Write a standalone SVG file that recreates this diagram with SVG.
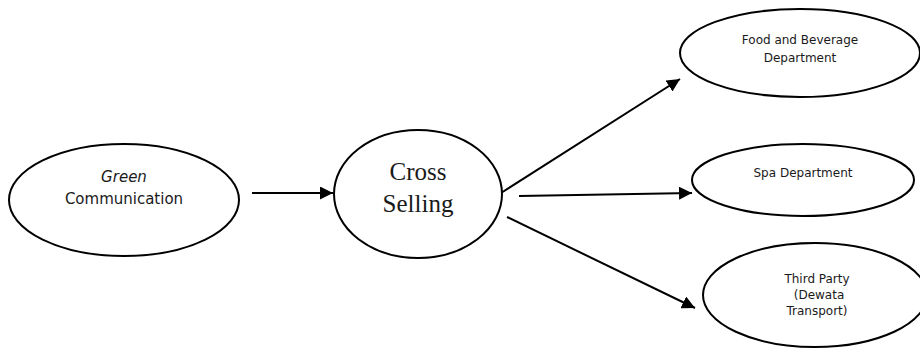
<svg xmlns="http://www.w3.org/2000/svg" width="920" height="350" viewBox="0 0 920 350">
<style>
.node{fill:#fff;stroke:#000;stroke-width:2}
.t{font-family:"DejaVu Sans",Verdana,sans-serif;fill:#1a1a1a;text-anchor:middle}
.s{font-family:"Liberation Serif","Times New Roman",serif;fill:#1a1a1a;text-anchor:middle;font-size:25px}
.edge{stroke:#000;stroke-width:2;fill:none;marker-end:url(#ah)}
</style>
<defs>
<marker id="ah" markerUnits="userSpaceOnUse" markerWidth="14" markerHeight="13" refX="13" refY="6.5" orient="auto">
<path d="M0,0 L13,6.5 L0,13 Z" fill="#000"/>
</marker>
</defs>
<rect width="920" height="350" fill="#fff"/>
<g id="connectors">
<line class="edge" x1="252" y1="193" x2="333" y2="193"/>
<line class="edge" x1="501" y1="193" x2="680" y2="79"/>
<line class="edge" x1="519" y1="196" x2="692" y2="193"/>
<line class="edge" x1="507" y1="217" x2="695" y2="308"/>
</g>
<g id="green-communication">
<ellipse class="node" cx="124" cy="200" rx="115" ry="56"/>
<text class="t" x="124" y="182" font-size="15" font-style="italic">Green</text>
<text class="t" x="124" y="204" font-size="15">Communication</text>
</g>
<g id="cross-selling">
<ellipse class="node" cx="418" cy="194" rx="84" ry="64"/>
<text class="s" x="418" y="180">Cross</text>
<text class="s" x="418" y="212">Selling</text>
</g>
<g id="food-beverage">
<ellipse class="node" cx="800" cy="53" rx="120" ry="44"/>
<text class="t" x="800" y="44" font-size="12">Food and Beverage</text>
<text class="t" x="800" y="62" font-size="12">Department</text>
</g>
<g id="spa">
<ellipse class="node" cx="803" cy="180" rx="111" ry="36"/>
<text class="t" x="803" y="177" font-size="12">Spa Department</text>
</g>
<g id="third-party">
<ellipse class="node" cx="815" cy="295" rx="112" ry="52"/>
<text class="t" x="817" y="283" font-size="12">Third Party</text>
<text class="t" x="819" y="299" font-size="12">(Dewata</text>
<text class="t" x="817" y="315" font-size="12">Transport)</text>
</g>
</svg>
